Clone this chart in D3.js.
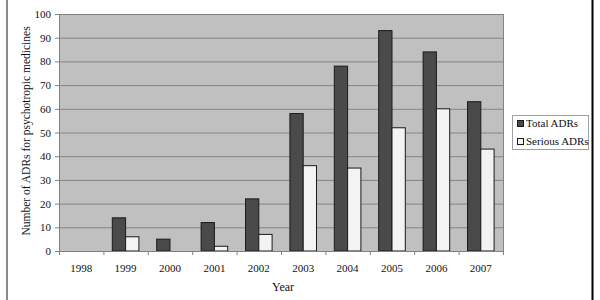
<!DOCTYPE html>
<html>
<head>
<meta charset="utf-8">
<script src="https://cdn.jsdelivr.net/npm/d3@7"></script>
<style>
  body { margin: 0; background: #fff; }
  svg text { font-family: "Liberation Serif", "DejaVu Serif", serif !important; fill: #111; }
</style>
</head>
<body>
<svg id="chart" width="600" height="300"></svg>
<script>
const years = ['1998', '1999', '2000', '2001', '2002', '2003', '2004', '2005', '2006', '2007'];
const totalADRs = [0, 14, 5, 12, 22, 58, 78, 93, 84, 63];
const seriousADRs = [0, 6, 0, 2, 7, 36, 35, 52, 60, 43];
const yTicks = [0, 10, 20, 30, 40, 50, 60, 70, 80, 90, 100];

const FONT = '"Liberation Serif", "DejaVu Serif", serif';

const series = [
    { name: 'Total ADRs', values: totalADRs, fill: '#4a4a4a' },
    { name: 'Serious ADRs', values: seriousADRs, fill: '#f3f3f3' }
];

const plot = { left: 59, top: 14, right: 503, bottom: 251 };

const svg = d3.select('#chart').attr('font-family', FONT);

// frame edges
svg.append('line').attr('x1', 7).attr('x2', 7).attr('y1', 0).attr('y2', 300)
    .attr('stroke', '#8a8a8a').attr('stroke-width', 2);
svg.append('line').attr('x1', 592.5).attr('x2', 592.5).attr('y1', 0).attr('y2', 300)
    .attr('stroke', '#000').attr('stroke-width', 2);

const x = d3.scaleBand().domain(years).range([plot.left, plot.right]).paddingInner(0).paddingOuter(0);
const xInner = d3.scaleBand().domain(series.map(s => s.name))
    .range([0, x.bandwidth()]).paddingOuter(0.67).paddingInner(0);
const y = d3.scaleLinear().domain([0, 100]).range([plot.bottom, plot.top]);

// plot background
svg.append('rect')
    .attr('x', plot.left).attr('y', plot.top)
    .attr('width', plot.right - plot.left).attr('height', plot.bottom - plot.top)
    .attr('fill', '#c0c0c0');

// gridlines
svg.append('g').selectAll('line')
    .data(yTicks.filter(d => d > 0))
    .enter().append('line')
    .attr('x1', plot.left).attr('x2', plot.right)
    .attr('y1', d => y(d) + 0.5).attr('y2', d => y(d) + 0.5)
    .attr('stroke', '#858585').attr('stroke-width', 1);

// right border of plot
svg.append('line').attr('x1', plot.right + 0.5).attr('x2', plot.right + 0.5)
    .attr('y1', plot.top).attr('y2', plot.bottom)
    .attr('stroke', '#858585');

// bars
const groups = svg.append('g').selectAll('g')
    .data(series)
    .enter().append('g');

groups.selectAll('rect')
    .data(s => s.values.map((v, i) => ({ v: v, year: years[i], s: s })))
    .enter().append('rect')
    .filter(d => d.v > 0)
    .attr('x', d => x(d.year) + xInner(d.s.name))
    .attr('y', d => y(d.v))
    .attr('width', xInner.bandwidth())
    .attr('height', d => y(0) - y(d.v))
    .attr('fill', d => d.s.fill)
    .attr('stroke', '#1a1a1a')
    .attr('stroke-width', 1);

// axes
const yAxis = svg.append('g')
    .attr('transform', `translate(${plot.left},0)`)
    .call(d3.axisLeft(y).tickValues(yTicks).tickSize(4).tickPadding(4));
yAxis.attr('font-family', FONT);
yAxis.select('.domain').attr('stroke', '#808080');
yAxis.selectAll('.tick line').attr('stroke', '#808080');
yAxis.selectAll('text').attr('font-size', 11).attr('fill', '#111');

const xAxis = svg.append('g')
    .attr('transform', `translate(0,${plot.bottom})`)
    .call(d3.axisBottom(x).tickSize(0).tickPadding(13));
xAxis.attr('font-family', FONT);
xAxis.select('.domain').attr('stroke', '#808080');
xAxis.selectAll('text').attr('font-size', 11).attr('fill', '#111');

// category boundary ticks
svg.append('g').selectAll('line')
    .data(years.concat(['end']))
    .enter().append('line')
    .attr('x1', (d, i) => plot.left + i * x.bandwidth() + 0.5)
    .attr('x2', (d, i) => plot.left + i * x.bandwidth() + 0.5)
    .attr('y1', plot.bottom).attr('y2', plot.bottom + 4)
    .attr('stroke', '#808080');

// axis titles
svg.append('text')
    .attr('x', 283).attr('y', 291)
    .attr('text-anchor', 'middle')
    .attr('font-size', 12)
    .text('Year');

svg.append('text')
    .attr('transform', 'translate(30,131) rotate(-90)')
    .attr('text-anchor', 'middle')
    .attr('font-size', 11.5)
    .text('Number of ADRs for psychotropic medicines');

// legend
const legend = svg.append('g');
legend.append('rect')
    .attr('x', 512.5).attr('y', 115.5)
    .attr('width', 76).attr('height', 34)
    .attr('fill', '#fff').attr('stroke', '#a0a0a0');

const items = legend.selectAll('g.item')
    .data(series)
    .enter().append('g')
    .attr('transform', (d, i) => `translate(517,${127 + i * 18})`);
items.append('rect')
    .attr('x', 0.5).attr('y', -6.5)
    .attr('width', 6).attr('height', 6)
    .attr('fill', d => d.fill).attr('stroke', '#1a1a1a');
items.append('text')
    .attr('x', 9).attr('y', 0)
    .attr('font-size', 11)
    .text(d => d.name);
</script>
</body>
</html>
